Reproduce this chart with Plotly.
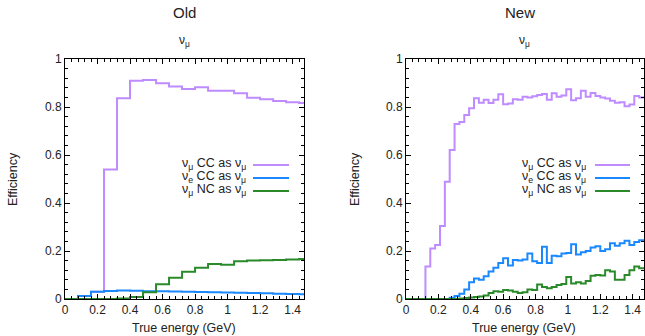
import plotly.graph_objects as go

# ---------------- data ----------------
old_edges = [round(0.08 * i, 2) for i in range(20)]  # 0 .. 1.52
old_numu_cc = [0.0, 0.012, 0.03, 0.54, 0.836, 0.909, 0.912, 0.899, 0.885, 0.875,
               0.882, 0.868, 0.868, 0.857, 0.839, 0.832, 0.825, 0.82, 0.817]
old_nue_cc = [0.0, 0.012, 0.03, 0.033, 0.035, 0.034, 0.032, 0.032, 0.031, 0.030,
              0.029, 0.028, 0.027, 0.026, 0.025, 0.024, 0.022, 0.021, 0.020]
old_numu_nc = [0.0, 0.0, 0.0, 0.0, 0.002, 0.008, 0.028, 0.061, 0.089, 0.114,
               0.13, 0.146, 0.143, 0.157, 0.16, 0.161, 0.163, 0.165, 0.167]

new_edges = [round(0.03 * i, 2) for i in range(50)]  # 0 .. 1.47
new_numu_cc = [0, 0, 0, 0, 0.135, 0.21, 0.225, 0.304, 0.489, 0.621,
               0.729, 0.737, 0.767, 0.795, 0.836, 0.818, 0.830, 0.817, 0.830, 0.853,
               0.811, 0.815, 0.832, 0.830, 0.843, 0.840, 0.845, 0.850, 0.854, 0.830,
               0.857, 0.843, 0.848, 0.874, 0.828, 0.836, 0.868, 0.843, 0.858, 0.846,
               0.840, 0.835, 0.826, 0.818, 0.820, 0.803, 0.810, 0.846, 0.840]
new_nue_cc = [0, 0, 0, 0, 0, 0, 0, 0, 0, 0.005,
              0.012, 0.022, 0.04, 0.07, 0.085, 0.08, 0.095, 0.115, 0.13, 0.15,
              0.17, 0.14, 0.163, 0.16, 0.165, 0.19, 0.157, 0.15, 0.218, 0.15,
              0.18, 0.178, 0.19, 0.192, 0.228, 0.185, 0.195, 0.2, 0.215, 0.22,
              0.2, 0.207, 0.232, 0.222, 0.232, 0.243, 0.225, 0.238, 0.245]
new_numu_nc = [0, 0, 0, 0, 0, 0, 0, 0, 0, 0,
               0, 0.002, 0.004, 0.006, 0.008, 0.01, 0.015, 0.025, 0.032, 0.03,
               0.037, 0.035, 0.03, 0.025, 0.028, 0.04, 0.038, 0.06, 0.05, 0.045,
               0.05, 0.058, 0.062, 0.092, 0.065, 0.07, 0.065, 0.075, 0.097, 0.1,
               0.098, 0.12, 0.115, 0.08, 0.08, 0.1, 0.12, 0.135, 0.128]

x_ticks = [0, 0.2, 0.4, 0.6, 0.8, 1, 1.2, 1.4]
y_ticks = [0, 0.2, 0.4, 0.6, 0.8, 1]
panel_titles = ["Old", "New"]
series_names = ["ν<sub>μ</sub> CC as ν<sub>μ</sub>",
                "ν<sub>e</sub> CC as ν<sub>μ</sub>",
                "ν<sub>μ</sub> NC as ν<sub>μ</sub>"]
colors = ["#bf8cff", "#1a88ff", "#2a8a2a"]

FONT = "Liberation Sans, Arial, sans-serif"
W, H = 645, 336

fig = go.Figure()

def add_hist(edges, vals, color, xa, ya):
    xs = list(edges[:len(vals) + 1])
    ys = list(vals) + [vals[-1]]
    fig.add_trace(go.Scatter(x=xs, y=ys, mode="lines", line=dict(color=color, width=2, shape="hv"),
                             xaxis=xa, yaxis=ya, showlegend=False, hoverinfo="skip"))

for vals, c in zip([old_numu_cc, old_nue_cc, old_numu_nc], colors):
    add_hist(old_edges, vals, c, "x", "y")
for vals, c in zip([new_numu_cc, new_nue_cc, new_numu_nc], colors):
    add_hist(new_edges, vals, c, "x2", "y2")

ytop, ybot = 59, 299
ydom = [1 - ybot / H, 1 - ytop / H]
dom1 = [65 / W, 304 / W]
dom2 = [406 / W, 644 / W]

def xax(dom, anchor):
    return dict(domain=dom, anchor=anchor, range=[0, 1.47], tickvals=x_ticks,
                ticks="inside", ticklen=5, tickcolor="black", tickwidth=1,
                showline=True, linecolor="black", linewidth=1, mirror="ticks",
                showgrid=False, zeroline=False, automargin=False,
                minor=dict(dtick=0.04, tick0=0, ticks="inside", ticklen=3, tickcolor="black", showgrid=False),
                tickfont=dict(family=FONT, size=12, color="#222"))

def yax(anchor):
    return dict(domain=ydom, anchor=anchor, range=[0, 1], tickvals=y_ticks,
                ticks="inside", ticklen=5, tickcolor="black", tickwidth=1,
                showline=True, linecolor="black", linewidth=1, mirror="ticks",
                showgrid=False, zeroline=False, automargin=False,
                minor=dict(dtick=0.04, tick0=0, ticks="inside", ticklen=3, tickcolor="black", showgrid=False),
                tickfont=dict(family=FONT, size=12, color="#222"))

annotations = []
def ann(text, xpx, ypx, size=12, xanchor="center", angle=0):
    annotations.append(dict(text=text, x=xpx / W, y=1 - ypx / H, xref="paper", yref="paper",
                            showarrow=False, xanchor=xanchor, yanchor="middle", textangle=angle,
                            font=dict(family=FONT, size=size, color="#222")))

# panel titles
ann(panel_titles[0], 184, 13, size=15)
ann(panel_titles[1], 520, 13, size=15)
ann("ν<sub>μ</sub>", 184, 41, size=12)
ann("ν<sub>μ</sub>", 524, 41, size=12)
# axis titles
ann("Efficiency", 13, 179, size=12.5, angle=-90)
ann("Efficiency", 355, 179, size=12.5, angle=-90)
ann("True energy (GeV)", 184, 328, size=12.5)
ann("True energy (GeV)", 524, 328, size=12.5)

shapes = []
rows_y = [164, 177, 190]
for (txt_right, l0, l1) in [(248, 253, 289), (588, 595, 630)]:
    for name, c, yy in zip(series_names, colors, rows_y):
        ann(name, txt_right, yy, size=12.5, xanchor="right")
        shapes.append(dict(type="line", xref="paper", yref="paper",
                           x0=l0 / W, x1=l1 / W, y0=1 - (yy + 1) / H, y1=1 - (yy + 1) / H,
                           line=dict(color=c, width=2)))

fig.update_layout(
    width=W, height=H, margin=dict(l=0, r=0, t=0, b=0, pad=0, autoexpand=False),
    paper_bgcolor="white", plot_bgcolor="white",
    xaxis=xax(dom1, "y"), yaxis=yax("x"),
    xaxis2=xax(dom2, "y2"), yaxis2=yax("x2"),
    annotations=annotations, shapes=shapes, showlegend=False,
)

fig.write_html("out.html", config={"displayModeBar": False},
               post_script="document.body.style.margin='0';document.body.style.overflow='hidden';")
